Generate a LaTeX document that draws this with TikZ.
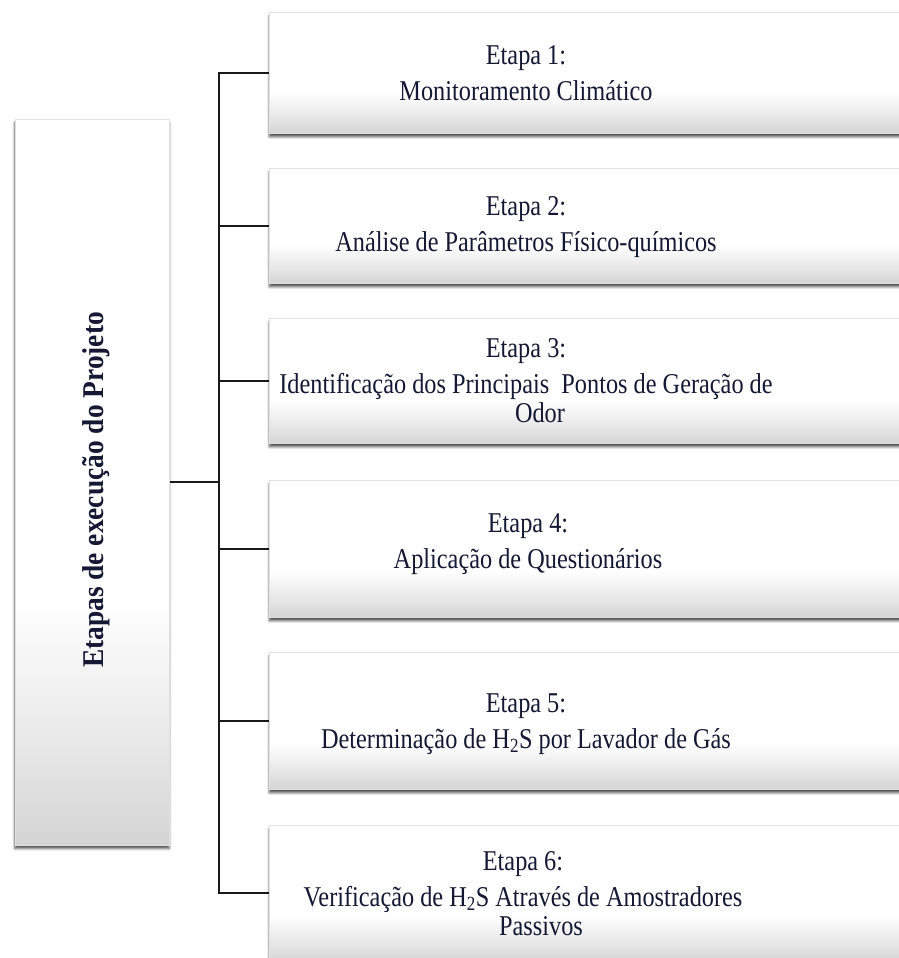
\documentclass[tikz,border=0pt]{standalone}
\usepackage{fontspec}
\setmainfont{Liberation Serif}
\usetikzlibrary{shadows.blur,backgrounds}
\definecolor{txtc}{RGB}{20,24,52}
\definecolor{shB}{RGB}{212,212,212}
\definecolor{shM}{RGB}{232,232,232}
\pgfdeclareverticalshading{boxfade}{100bp}{color(0bp)=(shB); color(25bp)=(shB); color(32bp)=(shM); color(42bp)=(white); color(100bp)=(white)}
\newcommand\stagelines[1]{\scalebox{1}[1.18]{\begin{tabular}[t]{@{}c@{}}#1\end{tabular}}}
\tikzset{
  card/.style={rectangle, draw=black!12, line width=0.6pt, shade, shading=boxfade, inner sep=0pt,
    blur shadow={shadow xshift=0pt, shadow yshift=-3.5pt, shadow blur radius=2.5pt, shadow opacity=70}},
  conn/.style={line width=2pt, draw=black!90, line cap=rect},
  txt/.style={anchor=base, inner sep=0pt, text=txtc, font=\fontsize{24.3}{25}\selectfont},
}
\begin{document}
\begin{tikzpicture}[x=1pt,y=-1pt]
\useasboundingbox (0,0) rectangle (899,958);
\clip (0,0) rectangle (899,958);
% boxes
\node[card, minimum width=154pt, minimum height=726pt] (root) at (92,482) {};
\node[card, anchor=north west, minimum width=740pt, minimum height=121pt] (b1) at (269,12) {};
\node[card, anchor=north west, minimum width=740pt, minimum height=115pt] (b2) at (269,168) {};
\node[card, anchor=north west, minimum width=740pt, minimum height=125pt] (b3) at (269,318) {};
\node[card, anchor=north west, minimum width=740pt, minimum height=137pt] (b4) at (269,480) {};
\node[card, anchor=north west, minimum width=740pt, minimum height=137pt] (b5) at (269,652) {};
\node[card, anchor=north west, minimum width=740pt, minimum height=136pt] (b6) at (269,825) {};
% texts
\node[rotate=90, anchor=base, inner sep=0pt, text=txtc, font=\fontsize{27.4}{30}\selectfont\bfseries] (rootlbl) at (103,490) {\scalebox{1}[1.1]{Etapas de execução do Projeto}};
\node[txt] (t1) at (526,64) {\stagelines{Etapa 1:\\[5.6pt]Monitoramento Climático}};
\node[txt] (t2) at (526,215) {\stagelines{Etapa 2:\\[5.6pt]Análise de Parâmetros Físico-químicos}};
\node[txt] (t3) at (526,357) {\stagelines{Etapa 3:\\[5.6pt]Identificação dos Principais~ Pontos de Geração de\\\hspace*{28pt}Odor}};
\node[txt] (t4) at (528,532) {\stagelines{Etapa 4:\\[5.6pt]Aplicação de Questionários}};
\node[txt] (t5) at (526,712) {\stagelines{Etapa 5:\\[5.6pt]Determinação de H\textsubscript{2}S por Lavador de Gás}};
\node[txt] (t6) at (523,870) {\stagelines{Etapa 6:\\[5.6pt]Verificação de H\textsubscript{2}S Através de Amostradores\\\hspace*{36pt}Passivos}};
% connectors
\coordinate (sp) at (219,0);
\begin{scope}[on background layer]
\draw[conn] (root.east) -- (root.east -| sp);
\draw[conn] (b1.west -| sp) -- (b6.west -| sp);
\foreach \b in {b1,b2,b3,b4,b5,b6} \draw[conn] (\b.west -| sp) -- (\b.west);
\end{scope}
\end{tikzpicture}
\end{document}
